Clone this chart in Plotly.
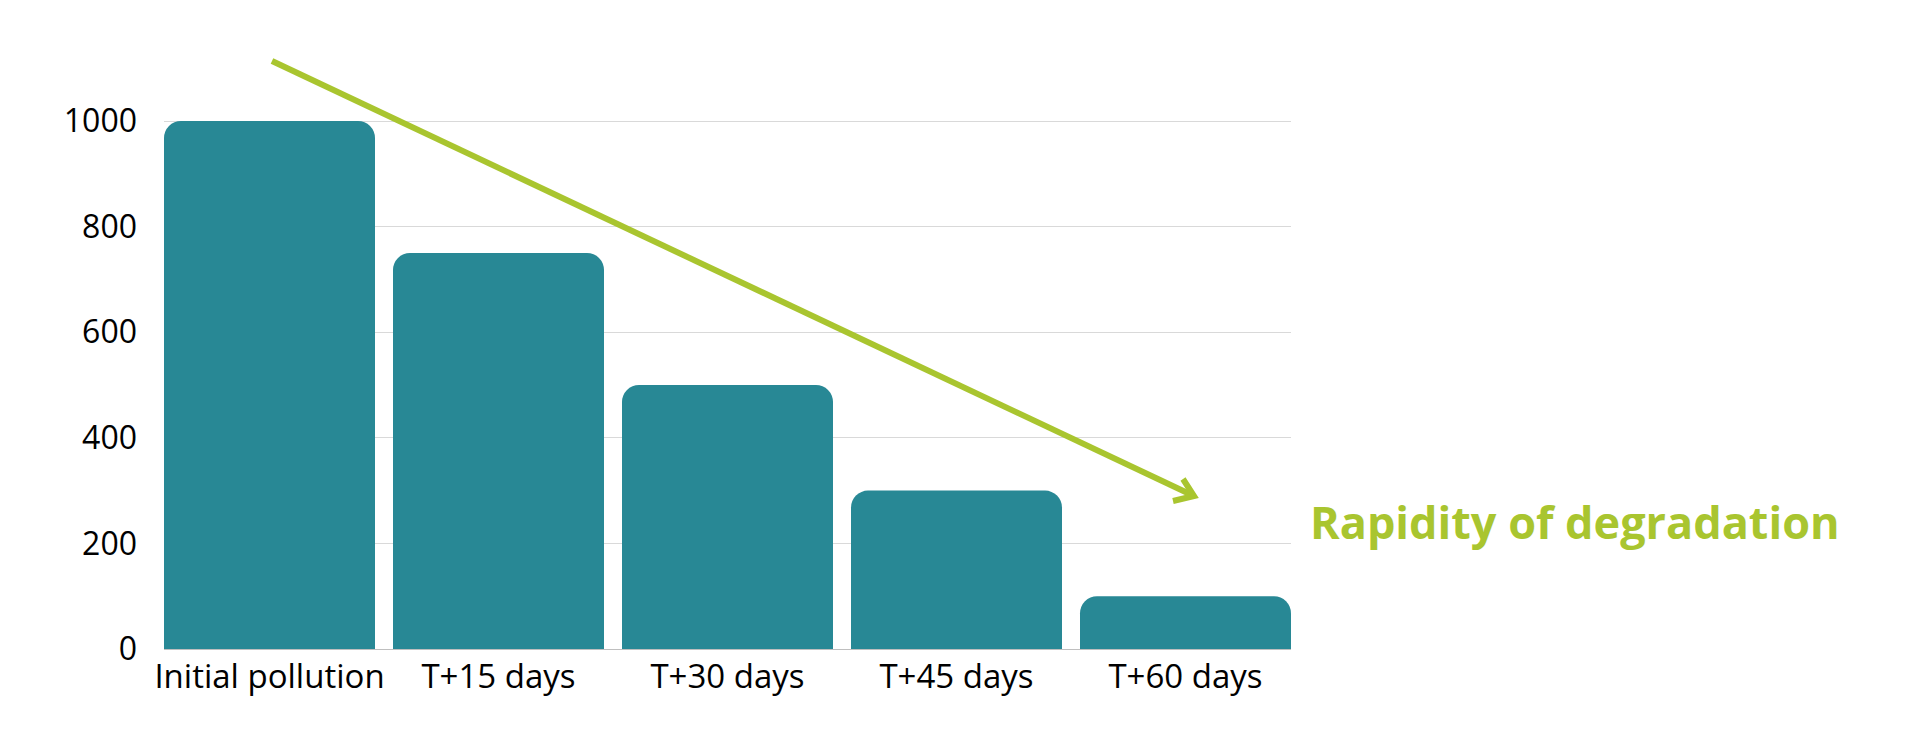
import plotly.graph_objects as go

categories = ["Initial pollution", "T+15 days", "T+30 days", "T+45 days", "T+60 days"]
values = [1000, 750, 500, 300, 100]
y_ticks = [0, 200, 400, 600, 800, 1000]
annotation_text = "Rapidity of degradation"

TEAL = "#288895"
GREEN = "#A9C52F"
FONT = "Open Sans"

W, H = 1920, 750
Y_TOP = 1002
L, R, T, B = 156, 1920 - 1283, 112, 109
PW, PH = W - L - R, H - T - B
SCALE = PH / Y_TOP  # pixels per data unit


def px(x):
    return (x - L) / PW


def py(y):
    return (H - B - y) / PH


gap = 18 / 229

fig = go.Figure(
    go.Bar(
        x=list(range(len(categories))),
        y=values,
        marker=dict(color=TEAL, line=dict(width=0)),
        hoverinfo="skip",
    )
)

fig.update_layout(
    width=W,
    height=H,
    margin=dict(l=L, r=R, t=T, b=B, pad=0),
    plot_bgcolor="white",
    paper_bgcolor="white",
    bargap=gap,
    barcornerradius=17,
    showlegend=False,
    font=dict(family=FONT, color="#000000"),
)

fig.update_xaxes(
    range=[-0.5 + gap / 2, len(categories) - 0.5 - gap / 2],
    tickmode="array",
    tickvals=list(range(len(categories))),
    ticktext=categories,
    tickfont=dict(size=33, family=FONT, color="#000000"),
    showgrid=False,
    zeroline=False,
    showline=False,
    ticks="",
    ticklabelstandoff=5,
)

fig.update_yaxes(
    range=[0, Y_TOP],
    tickmode="array",
    tickvals=y_ticks,
    ticktext=[str(v) for v in y_ticks],
    tickfont=dict(size=32, family=FONT, color="#000000"),
    showgrid=True,
    gridcolor="#d9d9d9",
    gridwidth=1,
    zeroline=True,
    zerolinecolor="#bfbfbf",
    zerolinewidth=1,
    showline=False,
    ticks="",
    ticklabelstandoff=26,
)

# trend arrow (decoration)
x0, y0 = px(264), py(53)
x1, y1 = px(1186), py(488)
fig.add_shape(type="line", xref="paper", yref="paper", x0=x0, y0=y0, x1=x1, y1=y1,
              line=dict(color=GREEN, width=6), layer="above")
ax1, ay1 = px(1175), py(471)
ax2, ay2 = px(1165), py(493)
fig.add_shape(
    type="path", xref="paper", yref="paper",
    path=f"M {ax1},{ay1} L {x1},{y1} L {ax2},{ay2}",
    line=dict(color=GREEN, width=6), layer="above",
)

fig.add_annotation(
    text=f"<b>{annotation_text}</b>",
    xref="paper", yref="paper",
    x=px(1300), y=py(513),
    xanchor="left", yanchor="middle",
    showarrow=False,
    font=dict(size=45, color=GREEN, family=FONT),
)

fig.write_html("out.html")
